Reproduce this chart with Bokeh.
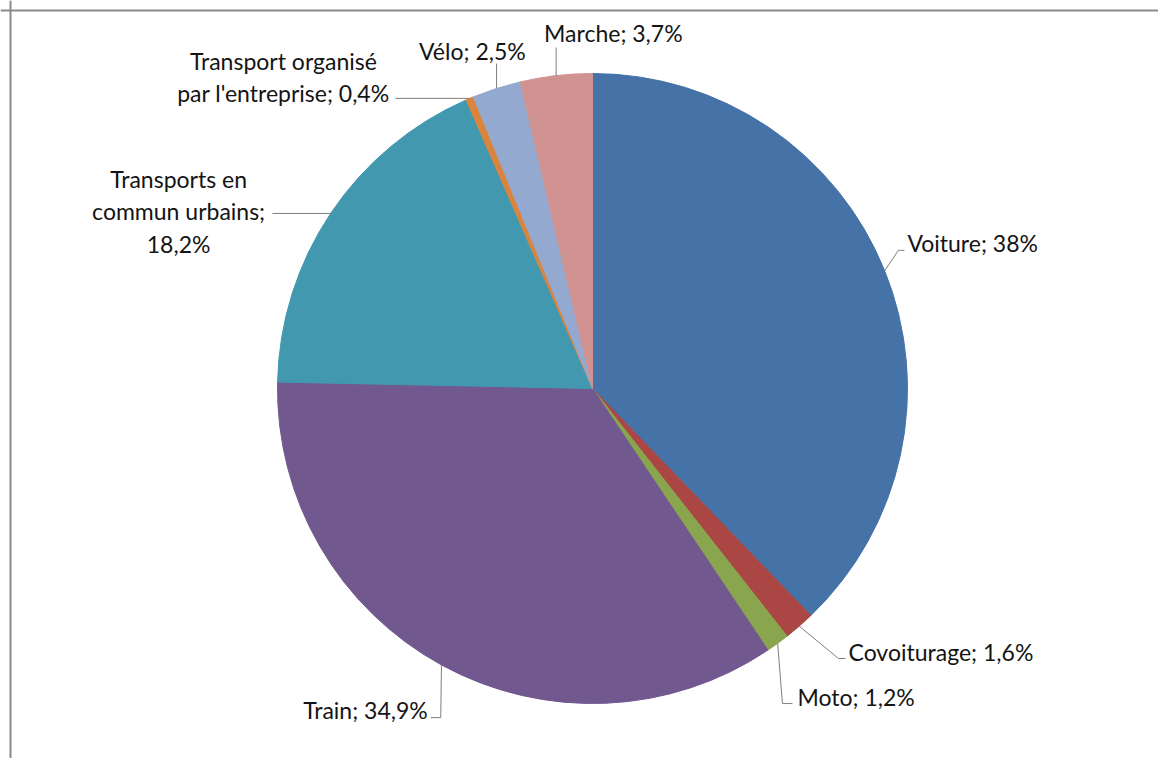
import math
from bokeh.plotting import figure
from bokeh.models import ColumnDataSource, Range1d, Span
from bokeh.core.properties import value
from bokeh.embed import file_html
from bokeh.resources import INLINE

# ---- data ----
categories = ["Voiture", "Covoiturage", "Moto", "Train",
              "Transports en commun urbains", "Transport organisé par l'entreprise",
              "Vélo", "Marche"]
shares = [38.0, 1.6, 1.2, 34.9, 18.2, 0.4, 2.5, 3.7]
label_texts = ["Voiture; 38%", "Covoiturage; 1,6%", "Moto; 1,2%", "Train; 34,9%",
               "Transports en\ncommun urbains;\n18,2%",
               "Transport organisé\npar l'entreprise; 0,4%",
               "Vélo; 2,5%", "Marche; 3,7%"]
colors = ["#4572A7", "#AA4643", "#89A54E", "#71588F",
          "#4198AF", "#DB843D", "#93A9CF", "#D19392"]

# ---- layout (pixels; offsets relative to the slice's outer edge point, y downward) ----
W, H = 1158, 758
CX, CY, R = 592, H - 388, 315
FONT = "Lato"
FSIZE = "23px"
text_offsets = [(22.7, -27.5), (49.3, 26.3), (19.8, 53.2), (-13.7, 44.7),
                (-152.0, -2.0), (-186.4, -21.5), (-24.2, -37.9), (57.2, -43.1)]
text_aligns = ["left", "left", "left", "right", "center", "center", "center", "center"]
leader_offsets = [
    [(13.7, -20.5), (19.7, -20.5)],
    [(39.3, 32.3), (46.3, 32.3)],
    [(4.8, 60.2), (14.8, 60.2)],
    [(-0.7, 52.7), (-10.7, 52.7)],
    [(-58.2, 0.0)],
    [(-74.4, 0.0)],
    [(0.0, -24.9)],
    [(0.0, -28.1)],
]

total = sum(shares)
starts, ends, mids = [], [], []
acc = 0.0
for v in shares:
    a0 = math.pi / 2 - 2 * math.pi * acc / total
    acc += v
    a1 = math.pi / 2 - 2 * math.pi * acc / total
    starts.append(a0)
    ends.append(a1)
    mids.append((a0 + a1) / 2)

p = figure(width=W, height=H, output_backend="svg", toolbar_location=None,
           x_range=Range1d(0, W), y_range=Range1d(0, H), tools="")
p.axis.visible = False
p.xgrid.visible = False
p.ygrid.visible = False
p.outline_line_color = None
p.min_border = 0
p.min_border_left = p.min_border_right = p.min_border_top = p.min_border_bottom = 0
p.background_fill_color = "white"
p.border_fill_color = "white"

# chart frame (top and left edges visible)
p.add_layout(Span(location=H - 10, dimension="width", line_color="#8a8a8a", line_width=2))
p.add_layout(Span(location=10, dimension="height", line_color="#8a8a8a", line_width=2))

src = ColumnDataSource(dict(cat=categories, share=shares, start=starts, end=ends, color=colors))
p.wedge(x=CX, y=CY, radius=R, start_angle="start", end_angle="end", direction="clock",
        fill_color="color", line_color="color", line_width=1, source=src)

# labels and leader lines
lx, ly = [], []
tx, ty = [], []
for i, m in enumerate(mids):
    ex = CX + R * math.cos(m)
    ey = CY + R * math.sin(m)
    xs = [ex] + [ex + dx for dx, dy in leader_offsets[i]]
    ys = [ey] + [ey - dy for dx, dy in leader_offsets[i]]
    lx.append(xs)
    ly.append(ys)
    tx.append(ex + text_offsets[i][0])
    ty.append(ey - text_offsets[i][1])

p.multi_line(xs=lx, ys=ly, line_color="#7f7f7f", line_width=1)

lsrc = ColumnDataSource(dict(x=tx, y=ty, t=label_texts, align=text_aligns))
p.text(x="x", y="y", text="t", text_align="align", text_baseline="middle",
       text_font=value(FONT), text_font_size=FSIZE, text_color="#141414",
       text_line_height=1.17, source=lsrc)

open("out.html", "w").write(file_html(p, INLINE))
